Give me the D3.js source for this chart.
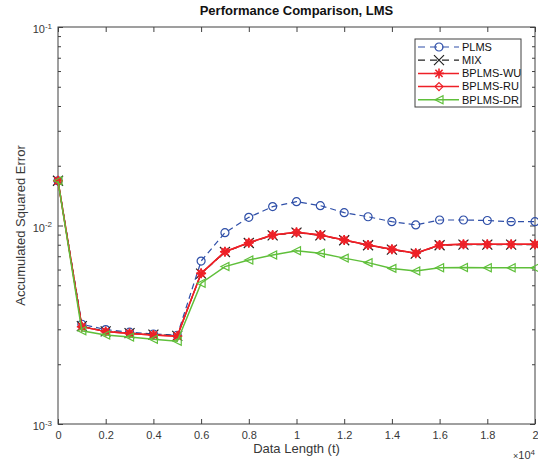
<!DOCTYPE html>
<html>
<head>
<meta charset="utf-8">
<script src="https://cdn.jsdelivr.net/npm/d3@7"></script>
<style>
  body { margin: 0; background: #fff; }
  text { font-family: "Liberation Sans", Arial, sans-serif; }
</style>
</head>
<body>
<div id="chart"></div>
<script>
// data
const dataLength = d3.range(0, 21).map(i => i * 1000);

const plms = [0.0168, 0.00318, 0.00299, 0.00290, 0.00284, 0.00280, 0.00662, 0.00920, 0.01099, 0.01245,
    0.01318, 0.01259, 0.01161, 0.01107, 0.01045, 0.01007, 0.01066, 0.01066, 0.01060, 0.01045, 0.01045];
const mix = [0.0168, 0.00311, 0.00293, 0.00287, 0.00282, 0.00278, 0.00572, 0.00735, 0.00816, 0.00892,
    0.00921, 0.00892, 0.00843, 0.00795, 0.00756, 0.00722, 0.00795, 0.00801, 0.00801, 0.00801, 0.00801];
const bplmsWU = [0.0168, 0.00309, 0.00292, 0.00286, 0.00281, 0.00277, 0.00574, 0.00738, 0.00819, 0.00895,
    0.00924, 0.00895, 0.00846, 0.00798, 0.00759, 0.00725, 0.00798, 0.00804, 0.00804, 0.00804, 0.00804];
const bplmsRU = [0.0168, 0.00309, 0.00292, 0.00286, 0.00281, 0.00277, 0.00574, 0.00738, 0.00819, 0.00895,
    0.00924, 0.00895, 0.00846, 0.00798, 0.00759, 0.00725, 0.00798, 0.00804, 0.00804, 0.00804, 0.00804];
const bplmsDR = [0.0168, 0.00295, 0.00281, 0.00274, 0.00267, 0.00261, 0.00512, 0.00621, 0.00670, 0.00710,
    0.00746, 0.00725, 0.00685, 0.00650, 0.00608, 0.00590, 0.00612, 0.00614, 0.00612, 0.00612, 0.00612];

const xTicks = [0, 2000, 4000, 6000, 8000, 10000, 12000, 14000, 16000, 18000, 20000];
const xTickLabels = ["0", "0.2", "0.4", "0.6", "0.8", "1", "1.2", "1.4", "1.6", "1.8", "2"];
const yMajor = [0.001, 0.01, 0.1];
const yMajorExp = ["-3", "-2", "-1"];

const series = [
    {name: "PLMS", values: plms, color: "#2f4fa8", dash: "6,4", marker: "circle"},
    {name: "MIX", values: mix, color: "#222222", dash: "6,4", marker: "x"},
    {name: "BPLMS-WU", values: bplmsWU, color: "#ee2027", dash: null, marker: "star"},
    {name: "BPLMS-RU", values: bplmsRU, color: "#ee2027", dash: null, marker: "diamond"},
    {name: "BPLMS-DR", values: bplmsDR, color: "#5fbf3a", dash: null, marker: "triangle"}
];

const margin = {top: 27, right: 3, bottom: 36, left: 58};
const width = 538 - margin.left - margin.right;
const height = 460 - margin.top - margin.bottom;

const svg = d3.select("#chart").append("svg")
    .attr("width", 538)
    .attr("height", 460);

const g = svg.append("g")
    .attr("transform", "translate(" + margin.left + "," + margin.top + ")");

const x = d3.scaleLinear().domain([0, 20000]).range([0, width]);
const y = d3.scaleLog().domain([0.001, 0.1]).range([height, 0]);

// minor log ticks
let yMinor = [];
[0.001, 0.01].forEach(d => {
    for (let k = 2; k <= 9; k++) yMinor.push(d * k);
});

const axisColor = "#404040";

function styleAxis(sel) {
    sel.select(".domain").remove();
    sel.selectAll("line").attr("stroke", axisColor);
    sel.selectAll("text").attr("fill", "#383838").style("font-size", "11px");
}

// bottom
g.append("g")
    .attr("transform", "translate(0," + height + ")")
    .call(d3.axisBottom(x).tickValues(xTicks).tickSize(-5).tickPadding(7)
        .tickFormat((d, i) => xTickLabels[i]))
    .call(styleAxis);
// top
g.append("g")
    .call(d3.axisTop(x).tickValues(xTicks).tickSize(-5).tickFormat(""))
    .call(styleAxis);

// left major
const yLeft = g.append("g")
    .call(d3.axisLeft(y).tickValues(yMajor).tickSize(-5).tickPadding(6).tickFormat(""))
    .call(styleAxis);
yLeft.selectAll(".tick text").each(function (d, i) {
    const t = d3.select(this);
    t.text(null).attr("dy", "0.5em");
    t.append("tspan").text("10");
    t.append("tspan").attr("dy", "-0.55em").style("font-size", "8px").text(yMajorExp[i]);
});
// left minor
g.append("g")
    .call(d3.axisLeft(y).tickValues(yMinor).tickSize(-3).tickFormat(""))
    .call(styleAxis);
// right
g.append("g")
    .attr("transform", "translate(" + width + ",0)")
    .call(d3.axisRight(y).tickValues(yMajor).tickSize(-5).tickFormat(""))
    .call(styleAxis);
g.append("g")
    .attr("transform", "translate(" + width + ",0)")
    .call(d3.axisRight(y).tickValues(yMinor).tickSize(-3).tickFormat(""))
    .call(styleAxis);

// box
g.append("rect")
    .attr("width", width)
    .attr("height", height)
    .attr("fill", "none")
    .attr("stroke", axisColor)
    .attr("stroke-width", 1);

// markers
function drawMarker(sel, type, color) {
    const r = 4;
    if (type === "circle") {
        sel.append("circle").attr("r", r).attr("fill", "none").attr("stroke", color).attr("stroke-width", 1.2);
    } else if (type === "x") {
        const b = 5;
        sel.append("path").attr("d", `M${-b},${-b}L${b},${b}M${-b},${b}L${b},${-b}`)
            .attr("stroke", color).attr("stroke-width", 1.2);
    } else if (type === "star") {
        const b = 5, a = b * 0.72;
        sel.append("path").attr("d", `M0,${-b}L0,${b}M${-b},0L${b},0M${-a},${-a}L${a},${a}M${-a},${a}L${a},${-a}`)
            .attr("stroke", color).attr("stroke-width", 1.6);
    } else if (type === "diamond") {
        sel.append("path").attr("d", `M0,${-r}L${r},0L0,${r}L${-r},0Z`)
            .attr("fill", "none").attr("stroke", color).attr("stroke-width", 1.2);
    } else if (type === "triangle") {
        sel.append("path").attr("d", `M${-r},0L${r},${-r}L${r},${r}Z`)
            .attr("fill", "none").attr("stroke", color).attr("stroke-width", 1.2);
    }
}

const line = d3.line()
    .x((d, i) => x(dataLength[i]))
    .y(d => y(d));

series.forEach(s => {
    g.append("path")
        .datum(s.values)
        .attr("fill", "none")
        .attr("stroke", s.color)
        .attr("stroke-width", s.dash ? 1.2 : 1.5)
        .attr("stroke-dasharray", s.dash)
        .attr("d", line);
    g.append("g").selectAll("g")
        .data(s.values)
        .enter().append("g")
        .attr("transform", (d, i) => "translate(" + x(dataLength[i]) + "," + y(d) + ")")
        .each(function () { drawMarker(d3.select(this), s.marker, s.color); });
});

// legend
const legend = g.append("g").attr("transform", "translate(" + (415 - margin.left) + "," + (39 - margin.top) + ")");
legend.append("rect")
    .attr("width", 106).attr("height", 68)
    .attr("fill", "#fff").attr("stroke", axisColor).attr("stroke-width", 1);
series.forEach((s, i) => {
    const row = legend.append("g").attr("transform", "translate(0," + (8 + i * 13.2) + ")");
    row.append("line")
        .attr("x1", 3).attr("x2", 44)
        .attr("stroke", s.color)
        .attr("stroke-width", s.dash ? 1.2 : 1.5)
        .attr("stroke-dasharray", s.dash ? "7,5" : null);
    const m = row.append("g").attr("transform", "translate(24,0)");
    drawMarker(m, s.marker, s.color);
    row.append("text")
        .attr("x", 47).attr("y", 0).attr("dy", "0.35em")
        .style("font-size", "11px").attr("fill", "#111")
        .text(s.name);
});

// titles
svg.append("text")
    .attr("x", margin.left + width / 2).attr("y", 15)
    .attr("text-anchor", "middle")
    .style("font-size", "13px").style("font-weight", "bold").attr("fill", "#111")
    .text("Performance Comparison, LMS");

svg.append("text")
    .attr("x", margin.left + width / 2).attr("y", 453)
    .attr("text-anchor", "middle")
    .style("font-size", "13px").attr("fill", "#383838")
    .text("Data Length (t)");

svg.append("text")
    .attr("transform", "translate(25," + (margin.top + height / 2) + ") rotate(-90)")
    .attr("text-anchor", "middle")
    .style("font-size", "13px").attr("fill", "#383838")
    .text("Accumulated Squared Error");

const xm = svg.append("text")
    .attr("x", 535).attr("y", 459)
    .attr("text-anchor", "end")
    .style("font-size", "11px").attr("fill", "#383838");
xm.append("tspan").style("font-size", "9px").text("×");
xm.append("tspan").text("10");
xm.append("tspan").attr("dy", "-0.55em").style("font-size", "8px").text("4");
</script>
</body>
</html>
